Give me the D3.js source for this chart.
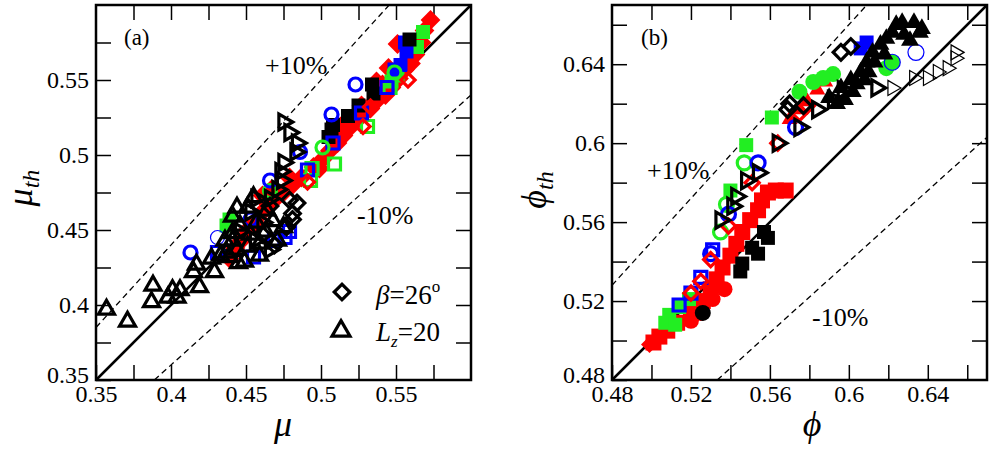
<!DOCTYPE html>
<html>
<head>
<meta charset="utf-8">
<script src="https://cdn.jsdelivr.net/npm/d3@7"></script>
<style>
  body { margin: 0; background: #fff; }
  svg text { font-family: "Liberation Serif", "Times New Roman", Times, serif; fill: #000; }
</style>
</head>
<body>
<svg id="chart" width="992" height="450"></svg>
<script>
(function(d3) {

  //** Data **//

  // panel (a): mu vs mu_th
  var aTicks  = [0.35, 0.375, 0.4, 0.425, 0.45, 0.475, 0.5, 0.525, 0.55, 0.575, 0.6];
  var aLabels = [0.35, 0.4, 0.45, 0.5, 0.55];

  var aRedDia = [[0.573,0.590],[0.569,0.583],[0.567,0.575],[0.563,0.567],[0.560,0.561],[0.556,0.557],
    [0.552,0.551],[0.547,0.545],[0.543,0.540],[0.538,0.537],[0.533,0.531],[0.529,0.528],[0.524,0.523],
    [0.519,0.518],[0.515,0.513],[0.511,0.508],[0.506,0.503],[0.501,0.497],[0.495,0.492],[0.487,0.485],
    [0.481,0.480],[0.475,0.475],[0.470,0.471],[0.465,0.467],[0.461,0.462],[0.456,0.455],[0.451,0.450],
    [0.447,0.443],[0.443,0.438],[0.439,0.431],[0.499,0.491],[0.479,0.485],[0.461,0.473],[0.467,0.477],
    [0.551,0.574],[0.545,0.558],[0.537,0.549],[0.531,0.531],[0.541,0.547],[0.527,0.533],[0.513,0.519]];
  var aRedDiaOpen   = [[0.558,0.550],[0.533,0.532],[0.528,0.519],[0.491,0.482]];
  var aGreenSq      = [[0.568,0.582],[0.564,0.572],[0.551,0.553],[0.547,0.549],[0.439,0.457],[0.437,0.453]];
  var aGreenSqOpen  = [[0.546,0.545],[0.531,0.519],[0.509,0.494],[0.493,0.483],[0.494,0.491]];
  var aGreenCirc    = [[0.501,0.505],[0.549,0.555],[0.466,0.476]];
  var aBlueSq       = [[0.557,0.569],[0.553,0.560],[0.556,0.575],[0.549,0.557]];
  var aBlueSqOpen   = [[0.544,0.545],[0.527,0.528],[0.508,0.508],[0.491,0.490],[0.476,0.445],[0.455,0.432],
    [0.431,0.435],[0.479,0.449],[0.469,0.443]];
  var aBlueCirc     = [[0.523,0.547],[0.507,0.527],[0.486,0.502],[0.466,0.483],[0.413,0.435],[0.453,0.457]];
  var aBlueCircThin = [[0.431,0.445]];
  var aBlackSq      = [[0.534,0.547],[0.535,0.541],[0.525,0.533],[0.518,0.526],[0.508,0.520],[0.505,0.512],
    [0.559,0.577],[0.507,0.517]];
  var aBlackDiaOpen = [[0.479,0.470],[0.481,0.461],[0.477,0.452],[0.484,0.468],[0.481,0.457],[0.469,0.440],
    [0.461,0.447],[0.466,0.466]];
  var aBlackTriUp   = [[0.357,0.397],[0.371,0.389],[0.388,0.413],[0.387,0.402],[0.401,0.410],[0.398,0.405],
    [0.406,0.410],[0.404,0.405],[0.415,0.422],[0.417,0.427],[0.419,0.412],[0.429,0.422],[0.439,0.432],
    [0.444,0.437],[0.441,0.443],[0.441,0.448],[0.444,0.465],[0.451,0.465],[0.455,0.472],[0.464,0.463],
    [0.457,0.455],[0.451,0.439],[0.471,0.443],[0.475,0.452],[0.437,0.435],[0.433,0.433],[0.459,0.433],
    [0.449,0.429],[0.463,0.449],[0.446,0.453],[0.436,0.443],[0.453,0.447],[0.441,0.459],[0.468,0.456],
    [0.459,0.441],[0.445,0.428],[0.427,0.431]];
  var aBlackTriRight = [[0.475,0.522],[0.479,0.515],[0.484,0.508],[0.483,0.502],[0.475,0.495],[0.473,0.489],
    [0.474,0.483],[0.471,0.477],[0.466,0.471],[0.457,0.471],[0.453,0.462],[0.461,0.455],[0.456,0.443],
    [0.446,0.449],[0.466,0.437]];

  // panel (b): phi vs phi_th
  var bTicks  = [0.48, 0.50, 0.52, 0.54, 0.56, 0.58, 0.60, 0.62, 0.64, 0.66];
  var bLabels = [0.48, 0.52, 0.56, 0.6, 0.64];

  var bRedSq = [[0.501,0.499],[0.504,0.502],[0.508,0.505],[0.513,0.509],[0.520,0.514],[0.526,0.520],
    [0.530,0.526],[0.533,0.531],[0.536,0.537],[0.540,0.543],[0.543,0.549],[0.546,0.555],[0.550,0.561],
    [0.554,0.566],[0.556,0.571],[0.559,0.575],[0.563,0.576],[0.568,0.576]];
  var bRedCirc      = [[0.525,0.514],[0.531,0.521],[0.537,0.526],[0.520,0.510]];
  var bRedDia       = [[0.499,0.498],[0.506,0.504]];
  var bRedTri       = [[0.570,0.612],[0.575,0.617],[0.579,0.621],[0.584,0.627],[0.588,0.631]];
  var bRedDiaOpen   = [[0.551,0.580],[0.539,0.558],[0.530,0.541],[0.525,0.530],[0.520,0.524],[0.564,0.600],
    [0.575,0.615],[0.579,0.619]];
  var bGreenSq      = [[0.548,0.599],[0.561,0.613],[0.540,0.576],[0.509,0.513],[0.514,0.517],[0.507,0.509],
    [0.519,0.521],[0.512,0.508]];
  var bGreenCircFill = [[0.582,0.631],[0.575,0.626],[0.592,0.635],[0.587,0.633],[0.622,0.641],[0.619,0.638]];
  var bGreenCirc    = [[0.535,0.555],[0.538,0.569],[0.547,0.590]];
  var bBlueCirc     = [[0.530,0.544],[0.539,0.564],[0.554,0.590],[0.573,0.608]];
  var bBlueCircThin = [[0.622,0.641],[0.634,0.646]];
  var bBlueSqOpen   = [[0.531,0.546],[0.525,0.532],[0.520,0.524],[0.514,0.518]];
  var bBlueSq       = [[0.609,0.651],[0.606,0.648]];
  var bBlackSq      = [[0.557,0.555],[0.551,0.547],[0.546,0.539],[0.545,0.535],[0.559,0.552],[0.554,0.544]];
  var bBlackCirc    = [[0.526,0.514]];
  var bBlackDiaOpen = [[0.596,0.646],[0.601,0.649],[0.570,0.620],[0.569,0.617],[0.577,0.619]];
  var bBlackTriRight = [[0.543,0.573],[0.548,0.581],[0.554,0.585],[0.541,0.568],[0.564,0.600],[0.575,0.608],
    [0.584,0.617],[0.592,0.622],[0.597,0.627],[0.614,0.628],[0.535,0.561]];
  var bBlackTriRightThin = [[0.622,0.628],[0.633,0.633],[0.640,0.633],[0.645,0.636],[0.650,0.638],
    [0.654,0.643],[0.654,0.646]];
  var bBlackTriUp   = [[0.627,0.661],[0.633,0.661],[0.637,0.658],[0.622,0.656],[0.619,0.653],[0.612,0.646],
    [0.609,0.641],[0.606,0.636],[0.636,0.656],[0.601,0.632],[0.596,0.628],[0.590,0.623],[0.616,0.650],
    [0.628,0.655],[0.624,0.660],[0.631,0.652],[0.613,0.641],[0.604,0.630],[0.598,0.622],[0.608,0.632],
    [0.618,0.645],[0.602,0.626],[0.610,0.636],[0.594,0.620]];

  //** Styles **//

  var RED = "#ff0000", GREEN = "#22ee22", BLUE = "#0000ff", BLACK = "#000";
  var FONT = "'Liberation Serif', 'Times New Roman', Times, serif";

  var aSeries = [
    { pts: aRedDia,       shape: "dia",  color: RED,   fill: true,  r: 7 },
    { pts: aGreenSq,      shape: "sq",   color: GREEN, fill: true,  r: 7 },
    { pts: aBlueSq,       shape: "sq",   color: BLUE,  fill: true,  r: 7 },
    { pts: aBlackSq,      shape: "sq",   color: BLACK, fill: true,  r: 7 },
    { pts: aGreenSqOpen,  shape: "sq",   color: GREEN, fill: false, r: 6 },
    { pts: aBlueSqOpen,   shape: "sq",   color: BLUE,  fill: false, r: 6 },
    { pts: aRedDiaOpen,   shape: "dia",  color: RED,   fill: false, r: 5 },
    { pts: aGreenCirc,    shape: "circ", color: GREEN, fill: false, r: 6.5 },
    { pts: aBlueCirc,     shape: "circ", color: BLUE,  fill: false, r: 6.5 },
    { pts: aBlueCircThin, shape: "circ", color: BLUE,  fill: false, r: 7, thin: true },
    { pts: aBlackDiaOpen, shape: "dia",  color: BLACK, fill: false, r: 5.5 },
    { pts: aBlackTriUp,   shape: "triU", color: BLACK, fill: false, r: 8 },
    { pts: aBlackTriRight, shape: "triR", color: BLACK, fill: false, r: 8 }
  ];

  var bSeries = [
    { pts: bRedSq,        shape: "sq",   color: RED,   fill: true,  r: 8 },
    { pts: bRedCirc,      shape: "circ", color: RED,   fill: true,  r: 8 },
    { pts: bRedDia,       shape: "dia",  color: RED,   fill: true,  r: 6 },
    { pts: bRedTri,       shape: "triU", color: RED,   fill: true,  r: 8 },
    { pts: bGreenSq,      shape: "sq",   color: GREEN, fill: true,  r: 7 },
    { pts: bGreenCircFill, shape: "circ", color: GREEN, fill: true, r: 8 },
    { pts: bGreenCirc,    shape: "circ", color: GREEN, fill: false, r: 7 },
    { pts: bBlueSq,       shape: "sq",   color: BLUE,  fill: true,  r: 7 },
    { pts: bBlueSqOpen,   shape: "sq",   color: BLUE,  fill: false, r: 6 },
    { pts: bBlueCirc,     shape: "circ", color: BLUE,  fill: false, r: 7 },
    { pts: bBlueCircThin, shape: "circ", color: BLUE,  fill: false, r: 8, thin: true },
    { pts: bRedDiaOpen,   shape: "dia",  color: RED,   fill: false, r: 5 },
    { pts: bBlackSq,      shape: "sq",   color: BLACK, fill: true,  r: 7 },
    { pts: bBlackCirc,    shape: "circ", color: BLACK, fill: true,  r: 8 },
    { pts: bBlackDiaOpen, shape: "dia",  color: BLACK, fill: false, r: 5.5 },
    { pts: bBlackTriRight, shape: "triR", color: BLACK, fill: false, r: 8 },
    { pts: bBlackTriRightThin, shape: "triR", color: BLACK, fill: false, r: 7.5, thin: true },
    { pts: bBlackTriUp,   shape: "triU", color: BLACK, fill: true,  r: 9 }
  ];

  var svg = d3.select("#chart");
  var SIZE = 375, TICK = 15;

  // Marker path, r = half the marker width
  function markerPath(shape, r) {
    var s = 2 * r;
    if (shape === "circ") return d3.symbol(d3.symbolCircle, Math.PI * r * r)();
    if (shape === "triU" || shape === "triR") return d3.symbol(d3.symbolTriangle, Math.sqrt(3) / 4 * s * s)();
    return d3.symbol(d3.symbolSquare, s * s)();
  }
  function markerRot(shape) {
    return shape === "dia" ? 45 : shape === "triR" ? 90 : 0;
  }

  function fmt(d) { return String(+d.toFixed(3)); }

  function panel(opt) {
    var g = svg.append("g").attr("transform", "translate(" + opt.left + "," + opt.top + ")");

    var x = d3.scaleLinear().domain(opt.domain).range([0, SIZE]);
    var y = d3.scaleLinear().domain(opt.domain).range([SIZE, 0]);

    // axes, ticks pointing inwards
    function labelled(d) {
      return opt.labels.some(function(l) { return Math.abs(l - d) < 1e-9; }) ? fmt(d) : "";
    }
    var below = opt.ticks.filter(function(t) { return t < opt.domain[1] - 1e-9; });
    var inner = below.filter(function(t) { return t > opt.domain[0] + 1e-9; });

    g.append("g").attr("transform", "translate(0," + SIZE + ")")
      .call(d3.axisBottom(x).tickValues(below).tickSize(-TICK).tickPadding(5).tickFormat(labelled));
    var left = g.append("g")
      .call(d3.axisLeft(y).tickValues(below).tickSize(-TICK).tickPadding(7).tickFormat(labelled));
    g.append("g").call(d3.axisTop(x).tickValues(inner).tickSize(-TICK).tickFormat(""));
    g.append("g").attr("transform", "translate(" + SIZE + ",0)")
      .call(d3.axisRight(y).tickValues(inner).tickSize(-TICK).tickFormat(""));

    // lift the lowest y label a little off the corner
    left.selectAll(".tick text").filter(function(d) { return Math.abs(d - opt.domain[0]) < 1e-9; })
      .attr("dy", "0.12em");

    g.selectAll(".domain").remove();
    g.selectAll(".tick line").attr("stroke", "#000").attr("stroke-width", 1.5);
    g.selectAll(".tick text").attr("font-size", 24).attr("font-family", FONT);
    g.selectAll("g").attr("font-family", FONT);

    // reference lines y = x, y = 1.1x, y = 0.9x
    var line = d3.line().x(function(d) { return x(d[0]); }).y(function(d) { return y(d[1]); });
    var lo = opt.domain[0], hi = opt.domain[1];
    g.append("path").attr("d", line([[lo, lo], [hi, hi]]))
      .attr("stroke", "#000").attr("stroke-width", 2.5).attr("fill", "none");
    g.append("path").attr("d", line([[lo, lo * 1.1], [hi / 1.1, hi]]))
      .attr("stroke", "#000").attr("stroke-width", 1.3).attr("stroke-dasharray", "6,4").attr("fill", "none");
    g.append("path").attr("d", line([[lo / 0.9, lo], [hi, hi * 0.9]]))
      .attr("stroke", "#000").attr("stroke-width", 1.3).attr("stroke-dasharray", "6,4").attr("fill", "none");

    // markers
    opt.series.forEach(function(s) {
      g.append("g").selectAll("path")
        .data(s.pts)
        .enter().append("path")
        .attr("d", markerPath(s.shape, s.r))
        .attr("transform", function(d) {
          return "translate(" + x(d[0]) + "," + y(d[1]) + ") rotate(" + markerRot(s.shape) + ")";
        })
        .attr("fill", s.fill ? s.color : "none")
        .attr("stroke", s.fill ? "none" : s.color)
        .attr("stroke-width", s.thin ? 1.2 : 3.2)
        .attr("stroke-linejoin", "miter");
    });

    // frame
    g.append("rect").attr("width", SIZE).attr("height", SIZE)
      .attr("fill", "none").attr("stroke", "#000").attr("stroke-width", 2.5);

    return g;
  }

  //** Panels **//

  var ga = panel({ left: 96, top: 5, domain: [0.35, 0.6], ticks: aTicks, labels: aLabels, series: aSeries });
  var gb = panel({ left: 612, top: 5, domain: [0.48, 0.67], ticks: bTicks, labels: bLabels, series: bSeries });

  // Annotations

  function label(g, x, y, txt, size) {
    return g.append("text").attr("x", x).attr("y", y).attr("font-size", size)
      .attr("font-family", FONT).text(txt);
  }

  label(ga, 28, 40, "(a)", 23);
  label(ga, 169, 69, "+10%", 26);
  label(ga, 261, 219, "-10%", 26);

  label(gb, 29, 40, "(b)", 23);
  label(gb, 35, 174, "+10%", 26);
  label(gb, 200, 321, "-10%", 26);

  // Legend (a)
  ga.append("path").attr("d", markerPath("sq", 5.5))
    .attr("transform", "translate(246,287) rotate(45)")
    .attr("fill", "none").attr("stroke", "#000").attr("stroke-width", 3.2);
  ga.append("path").attr("d", markerPath("triU", 9))
    .attr("transform", "translate(245,326)")
    .attr("fill", "none").attr("stroke", "#000").attr("stroke-width", 3.2).attr("stroke-linejoin", "miter");

  var t1 = ga.append("text").attr("x", 280).attr("y", 299).attr("font-size", 27).attr("font-family", FONT);
  t1.append("tspan").attr("font-style", "italic").text("β");
  t1.append("tspan").text("=26");
  t1.append("tspan").attr("font-size", 17).attr("dy", -12).text("o");

  var t2 = ga.append("text").attr("x", 280).attr("y", 336).attr("font-size", 27).attr("font-family", FONT);
  t2.append("tspan").attr("font-style", "italic").text("L");
  t2.append("tspan").attr("font-style", "italic").attr("font-size", 17).attr("dy", 6).text("z");
  t2.append("tspan").attr("dy", -6).text("=20");

  // Axis titles
  svg.append("text").attr("x", 283).attr("y", 436).attr("font-size", 36).attr("font-family", FONT)
    .attr("text-anchor", "middle").attr("font-style", "italic").text("μ");

  var ya = svg.append("text").attr("transform", "translate(32,188) rotate(-90)")
    .attr("font-size", 36).attr("font-family", FONT).attr("text-anchor", "middle");
  ya.append("tspan").attr("font-style", "italic").text("μ");
  ya.append("tspan").attr("font-style", "italic").attr("font-size", 24).attr("dy", 7).text("th");

  svg.append("text").attr("x", 812).attr("y", 436).attr("font-size", 36).attr("font-family", FONT)
    .attr("text-anchor", "middle").attr("font-style", "italic").text("ϕ");

  var yb = svg.append("text").attr("transform", "translate(546,190) rotate(-90)")
    .attr("font-size", 36).attr("font-family", FONT).attr("text-anchor", "middle");
  yb.append("tspan").attr("font-style", "italic").text("ϕ");
  yb.append("tspan").attr("font-style", "italic").attr("font-size", 24).attr("dy", 7).text("th");

})(d3);
</script>
</body>
</html>
